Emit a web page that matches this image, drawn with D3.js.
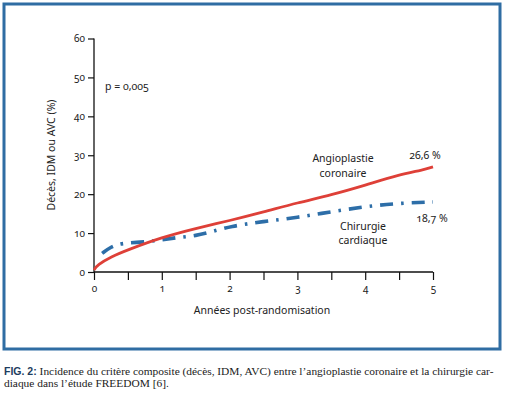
<!DOCTYPE html>
<html><head><meta charset="utf-8">
<script src="https://cdn.jsdelivr.net/npm/d3@7"></script>
<style>
body{margin:0;background:#fff;}
svg text{font-family:"Noto Sans","Open Sans",sans-serif;fill:#222;font-variant-numeric:oldstyle-nums;font-feature-settings:"onum" 1;}
.cap{font-family:"Liberation Serif","DejaVu Serif",serif;}
</style></head><body>
<svg id="c" width="505" height="395"></svg>
<script>
const xTicks=[0,1,2,3,4,5];
const xMinor=[0,0.5,1,1.5,2,2.5,3,3.5,4,4.5,5];
const yTicks=[0,10,20,30,40,50,60];
const angioX=[0,0.05,0.25,0.5,1,1.5,2,2.5,3,3.5,4,4.5,4.85,5];
const angioY=[0.5,1.8,3.9,5.7,8.9,11.2,13.2,15.4,17.8,19.8,22.3,25.0,26.2,27.0];
const chirX=[0.12,0.25,0.4,0.75,1.0,1.25,1.5,1.75,2.0,2.5,3.0,3.5,4.0,4.5,5.0];
const chirY=[4.8,6.5,7.4,7.7,8.3,8.9,9.3,10.4,11.7,13.0,14.0,15.5,16.8,17.7,18.0];

const svg=d3.select("#c");
svg.append("rect").attr("x",4).attr("y",4).attr("width",496).attr("height",345)
  .attr("fill","none").attr("stroke","#2f6da3").attr("stroke-width",3);

const x=d3.scaleLinear().domain([0,5]).range([94,433]);
const y=d3.scaleLinear().domain([0,60]).range([272,38.5]);

const ya=svg.append("g").attr("transform","translate(94,0)")
  .call(d3.axisLeft(y).tickValues(yTicks).tickSize(6).tickPadding(3).tickFormat(d3.format("d")));
ya.select(".domain").attr("d","M0,"+y(60)+"V"+y(0)).attr("stroke","#111").attr("stroke-width",1.3);
ya.selectAll(".tick line").attr("stroke","#111").attr("stroke-width",1.2);
ya.selectAll("text").attr("font-size",10).style("fill","#222");

const xa=svg.append("g").attr("transform","translate(0,272)")
  .call(d3.axisBottom(x).tickValues(xMinor).tickSize(8).tickPadding(5)
    .tickFormat(d=>xTicks.includes(d)?d3.format("d")(d):""));
xa.select(".domain").attr("d","M"+x(0)+",0H"+x(5)).attr("stroke","#111").attr("stroke-width",1.3);
xa.selectAll(".tick line").attr("stroke","#111").attr("stroke-width",1.2);
xa.selectAll("text").attr("font-size",10).style("fill","#222");

const line=d3.line().x(d=>x(d[0])).y(d=>y(d[1])).curve(d3.curveBasis);
svg.append("path").datum(chirX.map((v,i)=>[v,chirY[i]])).attr("d",line)
  .attr("fill","none").attr("stroke","#2d6ea8").attr("stroke-width",3.6)
  .attr("stroke-dasharray","13,8,2.5,8");
svg.append("path").datum(angioX.map((v,i)=>[v,angioY[i]])).attr("d",line)
  .attr("fill","none").attr("stroke","#de4038").attr("stroke-width",2.8);

const t=(tx,ty,s,fs,anchor)=>svg.append("text").attr("x",tx).attr("y",ty).attr("font-size",fs||10.5)
  .attr("text-anchor",anchor||"middle").attr("dominant-baseline","middle").text(s);
t(105,87,"p = 0,005",10.5,"start");
t(343,159,"Angioplastie");
t(343,174,"coronaire");
t(425,156,"26,6 %");
t(432,219,"18,7 %");
t(363,227,"Chirurgie");
t(363,241,"cardiaque");
t(262,311,"Années post-randomisation");
svg.append("text").attr("transform","translate(52,155) rotate(-90)").attr("text-anchor","middle")
  .attr("dominant-baseline","middle").attr("font-size",10.5).text("Décès, IDM ou AVC (%)");

const cap=svg.append("text").attr("class","cap").attr("x",4).attr("y",375).attr("font-size",11.4);
cap.append("tspan").attr("font-weight","bold").style("fill","#1d3d5e").attr("font-family","Liberation Sans, sans-serif").attr("font-size",10.5).text("FIG. 2: ");
cap.append("tspan").text("Incidence du critère composite (décès, IDM, AVC) entre l’angioplastie coronaire et la chirurgie car-");
svg.append("text").attr("class","cap").attr("x",4).attr("y",387).attr("font-size",11.4)
  .text("diaque dans l’étude FREEDOM [6].");
</script></body></html>
